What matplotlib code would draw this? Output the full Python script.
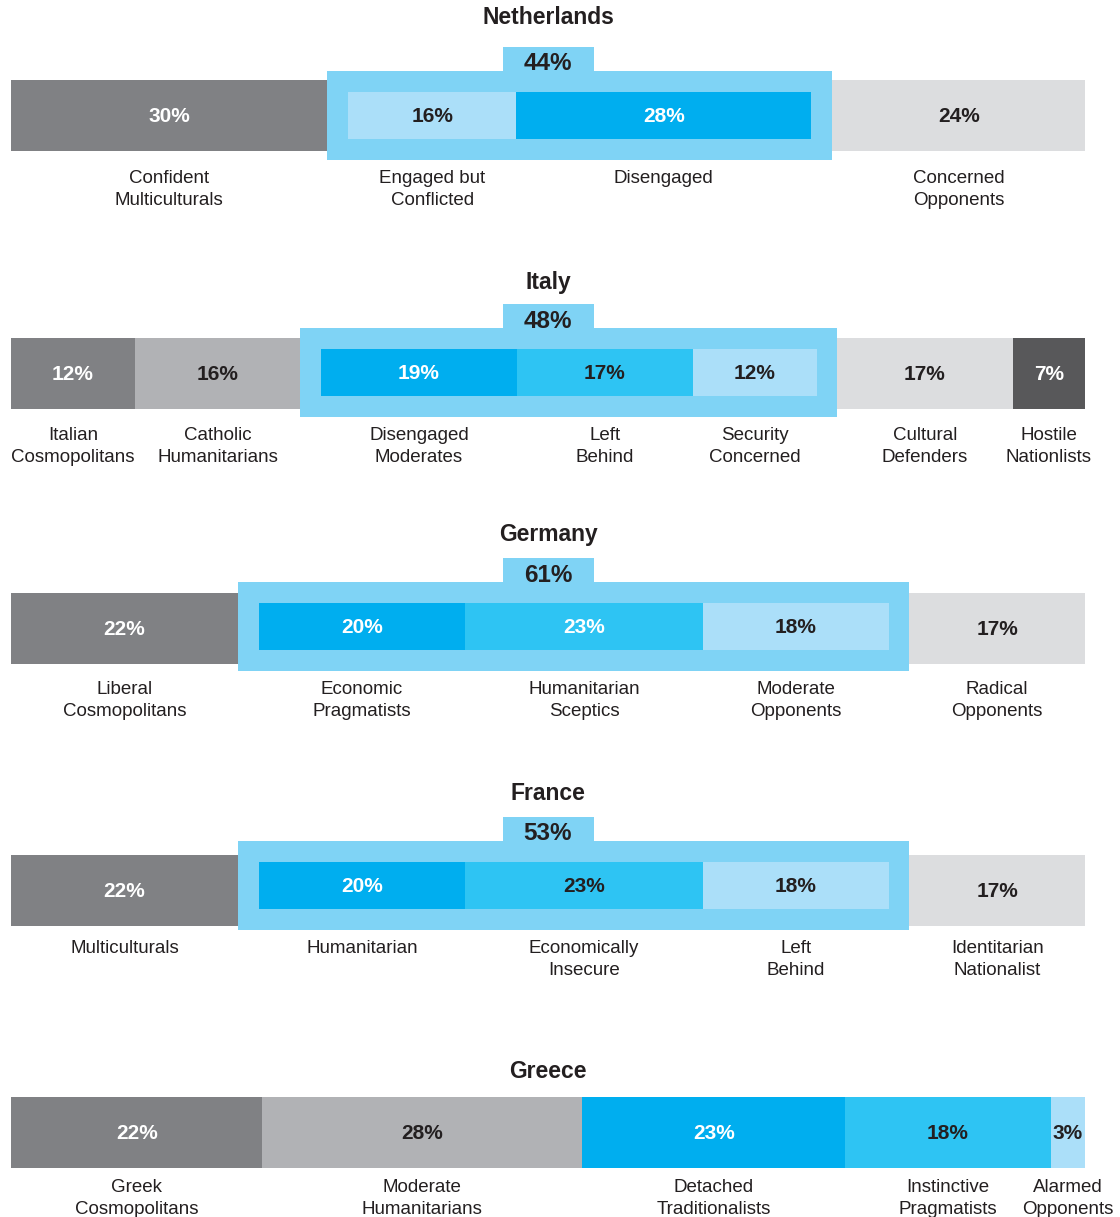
import matplotlib
matplotlib.use('Agg')
import matplotlib.pyplot as plt
from matplotlib.patches import Rectangle

plt.rcParams['font.family'] = ['Liberation Sans', 'DejaVu Sans']

# ---- data ----
countries = ['Netherlands', 'Italy', 'Germany', 'France', 'Greece']

nl_values = [30, 16, 28, 24]
nl_labels = ['Confident\nMulticulturals', 'Engaged but\nConflicted', 'Disengaged', 'Concerned\nOpponents']

it_values = [12, 16, 19, 17, 12, 17, 7]
it_labels = ['Italian\nCosmopolitans', 'Catholic\nHumanitarians', 'Disengaged\nModerates', 'Left\nBehind',
             'Security\nConcerned', 'Cultural\nDefenders', 'Hostile\nNationlists']

de_values = [22, 20, 23, 18, 17]
de_labels = ['Liberal\nCosmopolitans', 'Economic\nPragmatists', 'Humanitarian\nSceptics',
             'Moderate\nOpponents', 'Radical\nOpponents']

fr_values = [22, 20, 23, 18, 17]
fr_labels = ['Multiculturals', 'Humanitarian', 'Economically\nInsecure', 'Left\nBehind',
             'Identitarian\nNationalist']

gr_values = [22, 28, 23, 18, 3]
gr_labels = ['Greek\nCosmopolitans', 'Moderate\nHumanitarians', 'Detached\nTraditionalists',
             'Instinctive\nPragmatists', 'Alarmed\nOpponents']

# segments inside the highlighted "middle" box (first, last index), None = no box
middle = [(1, 2), (2, 4), (1, 3), (1, 3), None]
middle_totals = [44, 48, 61, 53, None]

# ---- colours ----
DGREY = '#808184'
MGREY = '#b1b2b5'
LGREY = '#dcdddf'
XGREY = '#58585a'
BOX = '#7fd3f5'
LBLUE = '#abdff9'
MBLUE = '#2ec4f3'
SBLUE = '#00aeef'
DARK = '#231f20'

nl_colors = [DGREY, LBLUE, SBLUE, LGREY]
it_colors = [DGREY, MGREY, SBLUE, MBLUE, LBLUE, LGREY, XGREY]
de_colors = [DGREY, SBLUE, MBLUE, LBLUE, LGREY]
fr_colors = [DGREY, SBLUE, MBLUE, LBLUE, LGREY]
gr_colors = [DGREY, MGREY, SBLUE, MBLUE, LBLUE]

nl_txt = ['white', DARK, 'white', DARK]
it_txt = ['white', DARK, 'white', DARK, DARK, DARK, 'white']
de_txt = ['white', 'white', 'white', DARK, DARK]
fr_txt = ['white', 'white', DARK, DARK, DARK]
gr_txt = ['white', DARK, 'white', DARK, DARK]

all_values = [nl_values, it_values, de_values, fr_values, gr_values]
all_labels = [nl_labels, it_labels, de_labels, fr_labels, gr_labels]
all_colors = [nl_colors, it_colors, de_colors, fr_colors, gr_colors]
all_txt = [nl_txt, it_txt, de_txt, fr_txt, gr_txt]

# ---- layout (pixels, y measured from top) ----
W, H = 1120, 1217
X0, X1 = 11, 1085
PAD = 2  # padding of the highlight box, in % units
row_top = [71, 328, 582, 841, 1088]
title_y = [17, 282, 533, 793, 1071]
side_off = [9, 10, 11, 14, 9]

fig = plt.figure(figsize=(W / 100, H / 100), dpi=100)

for r, country in enumerate(countries):
    vals = all_values[r]
    mid = middle[r]
    total = sum(vals) + (2 * PAD if mid else 0)
    ax = fig.add_axes([X0 / W, 0, (X1 - X0) / W, 1])
    ax.set_xlim(0, total)
    ax.set_ylim(H, 0)
    ax.axis('off')

    t = row_top[r]
    xc = total / 2
    ax.text(xc, title_y[r] + 1, country, ha='center', va='center', fontsize=16.5,
            fontweight='bold', color=DARK)

    # left edges with box padding
    lefts = []
    x = 0
    for i, v in enumerate(vals):
        if mid and i == mid[0]:
            box_left = x
            x += PAD
        lefts.append(x)
        x += v
        if mid and i == mid[1]:
            x += PAD
            box_right = x

    if mid:
        # tab with total on top, at chart centre
        tab_w = 91 * total / (X1 - X0)
        ax.add_patch(Rectangle((xc - tab_w / 2, t - 24), tab_w, 30, color=BOX, lw=0))
        ax.add_patch(Rectangle((box_left, t), box_right - box_left, 89, color=BOX, lw=0))
        ax.text(xc, t - 7, f'{middle_totals[r]}%', ha='center', va='center',
                fontsize=17.5, fontweight='bold', color=DARK)

    for i, v in enumerate(vals):
        inside = mid is not None and mid[0] <= i <= mid[1]
        if inside:
            y0, h = t + 21, 47
        else:
            y0, h = t + side_off[r], 71
        ax.add_patch(Rectangle((lefts[i], y0), v, h, color=all_colors[r][i], lw=0))
        cx = lefts[i] + v / 2
        ax.text(cx, y0 + h / 2 + 1, f'{v}%', ha='center', va='center', fontsize=15,
                fontweight='bold', color=all_txt[r][i])
        ax.text(cx, t + 99 if mid else t + 91, all_labels[r][i], ha='center', va='top',
                fontsize=13.5, color=DARK, linespacing=1.4)

fig.savefig('out.png', dpi=100)
